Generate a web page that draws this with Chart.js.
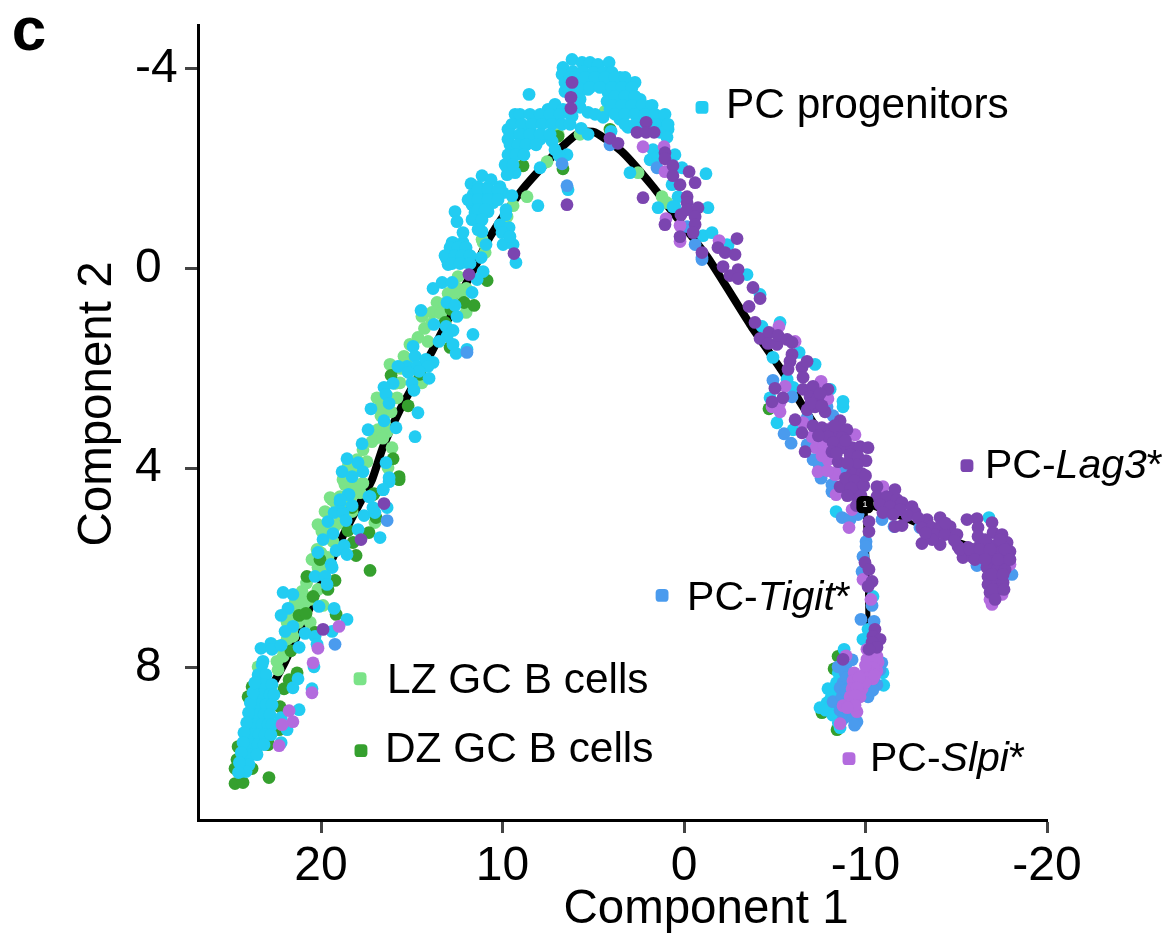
<!DOCTYPE html>
<html>
<head>
<meta charset="utf-8">
<title>Component plot</title>
<script src="https://cdn.jsdelivr.net/npm/chart.js@4"></script>
<style>
html,body{margin:0;padding:0;background:#fff;}
canvas{display:block;}
</style>
</head>
<body>
<canvas id="plot" width="1172" height="934"></canvas>
<script>
// Tick labels
const xTicks = [20, 10, 0, -10, -20];
const yTicks = [-4, 0, 4, 8];

// Trajectory
const trunkLine = [[24.46,10.14],[23.09,8.64],[21.98,7.88],[18.84,5.39],[17.85,4.69],[17.19,4.23],[16.58,3.57],[15.65,2.83],[13.83,1.62],[12.18,0.42],[11.4,-0.12],[10.69,-0.64],[9.04,-1.52],[8.1,-1.92],[6.72,-2.44],[5.73,-2.73],[4.9,-2.73],[3.36,-2.32],[1.71,-1.64],[0.61,-1.12],[-1.27,-0.24],[-3.64,1.12],[-5.45,2.08],[-6.39,2.67],[-9.97,4.73]];
const lag3Line = [[-9.97,4.73],[-12.18,5.03],[-14.11,5.33],[-17.41,5.73]];
const slpiLine = [[-9.97,4.73],[-10.08,5.83],[-10.14,7.23]];
const branchNode = [[-9.97,4.73]];

// Cells as [component 1, component 2]
const lzCells = [[22.37,8.04],[22.43,7.87],[23.47,7.98],[21.87,7.43],[21.55,7.37],[21.87,7.09],[21.27,7.09],[20.6,7.09],[21.71,6.89],[21.16,6.79],[21.43,6.69],[21.05,6.47],[20.6,6.63],[20.17,6.43],[19.89,6.75],[20.5,5.83],[20.22,5.63],[20.17,5.99],[19.62,5.79],[20.17,5.13],[19.95,5.27],[19.34,5.47],[19.78,4.87],[19.39,4.63],[18.95,4.57],[18.68,4.33],[18.24,4.39],[17.85,4.49],[18.29,4.87],[17.03,5.09],[22.43,7.57],[22.09,7.77],[23.91,8.64],[23.64,8.5],
[18.24,4.29],[18.79,4.23],[18.02,3.83],[17.47,3.87],[17.69,3.63],[17.2,3.47],[16.87,3.23],[16.36,3.27],[16.09,3.59],[16.31,3.99],[16.92,2.59],[16.75,2.79],[16.14,2.87],[15.81,2.59],[15.65,2.29],[16.2,1.92],[15.43,1.76],[15.1,1.52],[14.66,1.38],[14.11,1.46],[14.44,2.29],[14.44,0.96],[13.89,0.88],[13.61,0.68],[13.61,0.86],[12.73,0.48],[12.45,0.16],[12.01,0.88],[10.96,-0.32],[11.07,-0.52],[18.24,4.49],[19.5,4.59],
[7.55,-2.14],[2.53,-1.92],[1.21,-1.44],[0.94,-1.32],[8.65,-1.44],[9.42,-1.26],[4.35,-3.15],[11.13,-0.58],[9.75,-1.04],[6.94,-2.69],[5.73,-2.69],
[21.6,7.0],[21.4,6.9],[21.2,6.6],[20.9,6.7],[21.0,7.0],[21.6,7.25],[22.0,7.6],[20.8,6.3],[20.0,5.7],[19.9,6.0],[19.8,5.9],[19.6,5.1],[19.2,4.7],[19.0,4.85],[18.6,4.6],[18.3,4.55],[18.7,4.7],[19.3,5.2],[19.0,5.1],[18.5,3.95],[18.3,4.1],[17.9,4.05],[18.1,4.45],[17.7,4.3],[17.0,3.4],[16.6,3.4],[16.5,3.1],[16.7,2.95],[16.4,2.7],[16.2,2.6],[15.9,2.3],[15.6,2.0],[15.3,1.9],[14.3,1.2],[13.9,1.1],[13.4,0.9],[13.2,0.7],[13,0.5],[12.7,0.7],[12.5,0.4],[12.3,0.5],[12.0,0.4]];
const dzCells = [[22.87,10.2],[24.74,10.32],[24.3,10.3],[24.74,10.02],[23.8,10.02],[24.57,9.58],[23.58,9.7],[22.92,9.44],[22.92,9.54],[22.31,9.24],[22.26,8.78],[22.04,8.42],[21.76,8.24],[21.32,8.1],[21.66,7.66],[21.21,6.95],[20.83,6.91],[20.44,6.57],[20.78,6.17],[19.23,6.25],[19.62,6.43],[19.17,6.93],[17.3,6.05],[18.07,5.75],[18.24,5.49],[17.36,5.29],[18.51,5.25],[18.29,4.79],[16.97,4.99],[17.14,4.53],[15.7,4.23],[20.06,5.83],[24.02,8.58],[23.8,8.38],[24.63,9.84],[20.33,7.29],
[16.14,2.14],[15.2,2.75],[14.55,2.12],[16.03,3.81],[15.7,4.17],[17.08,4.51],[13.17,1.08],[12.89,1.58],[12.84,0.82],[12.12,0.68],[11.57,0.74],[10.85,0.24],
[8.87,-2.06],[6.94,-2.65],[6.67,-2.0],[4.08,-2.79],[-4.68,2.81],[-8.49,7.77],[-8.27,8.02],[-8.43,9.24],[-7.6,8.9]];
const progenitorCells = [[23.25,7.94],[23.47,8.14],[23.03,8.14],[23.58,8.34],[23.14,8.34],[22.7,8.34],[23.64,8.54],[23.25,8.54],[22.81,8.54],[22.59,8.54],[23.69,8.74],[23.36,8.74],[23.03,8.74],[22.7,8.74],[23.8,8.94],[23.47,8.94],[23.14,8.94],[22.81,8.94],[23.91,9.14],[23.58,9.14],[23.25,9.14],[22.92,9.14],[22.7,9.14],[24.08,9.34],[23.75,9.34],[23.42,9.34],[23.09,9.34],[22.76,9.34],[24.13,9.54],[23.8,9.54],[23.47,9.54],[23.14,9.54],[24.19,9.74],[23.86,9.74],[23.53,9.74],[24.3,9.94],[23.97,9.94],[24.41,10.08],[24.13,10.08],
[24.0,8.9],[24.1,9.1],[24.25,9.3],[24.3,9.5],[24.4,9.7],[24.5,9.9],[24.55,10.1],[23.9,8.7],[23.75,8.5],[23.65,8.3],
[22.09,6.49],[21.55,6.53],[21.82,6.81],[22.2,6.95],[21.55,7.17],[21.98,7.27],[20.88,7.31],[20.33,7.37],[20.11,6.77],[19.28,6.81],[18.57,7.03],[19.39,7.27],[23.31,7.61],[22.76,7.51],[22.7,7.63],[22.2,7.55],[21.21,7.59],[23.2,7.87],[20.33,6.17],[19.78,6.17],[19.67,6.33],[19.39,5.99],[19.45,5.93],[20.17,5.69],[19.17,5.65],[18.73,5.55],[18.57,5.73],[19.89,5.43],[19.34,5.31],[19.62,5.07],[19.28,4.89],[18.79,4.89],[18.62,5.05],[18.95,4.69],[18.46,4.53],[18.29,4.75],[17.96,5.23],[16.75,5.39],[17.63,4.95],[17.36,4.57],[17.03,4.89],[17.14,4.79],[16.58,4.43],[16.36,4.79],[16.25,4.27],[21.27,8.22],[21.55,8.4],[21.21,8.84],[20.39,7.98],[21.87,9.24],[22.2,9.0],[22.2,9.5],[20.5,8.42],[20.22,7.53],
[13.83,0.4],[13.33,0.28],[12.78,0.28],[14.49,0.84],[13.78,1.12],[13.06,0.68],[12.62,0.74],[12.51,0.96],[13.11,1.16],[12.73,1.24],[13.06,1.36],[13.5,1.46],[12.73,1.52],[12.56,1.7],[11.63,1.32],[11.96,1.62],[11.68,0.48],[14.93,1.56],[14.82,1.76],[15.26,1.96],[15.76,1.96],[14.71,1.96],[14.22,1.82],[13.83,1.88],[14.11,1.96],[14.6,2.06],[15.2,2.08],[14.05,2.2],[14.99,2.29],[14.88,2.44],[16.03,2.3],[16.53,2.38],[16.42,2.52],[16.25,2.7],[17.25,2.81],[14.66,2.89],[16.53,3.05],[17.41,3.23],[15.87,3.19],[14.82,3.37],[17.74,3.51],[18.57,3.81],[17.96,3.89],[16.42,3.89],[18.84,4.07],[18.29,4.17],[17.69,4.07],[16.25,4.19],[16.58,4.43],[17.3,4.57],[18.51,4.53],[18.95,4.63],
[12.78,-0.52],[12.18,-0.52],[12.51,-0.38],[12.18,-0.32],[13.11,-0.22],[13,-0.08],[12.62,-0.14],[11.96,-0.12],[11.18,-0.22],[11.07,0.06],[11.4,0.22],[9.97,-0.48],[9.42,-0.48],[9.26,-0.12],[10.91,-0.48],[13.06,-0.18],
[12.62,-1.14],[12.51,-0.94],[12.18,-0.72],[12.73,-0.52],[12.34,-0.44],[12.07,-0.32],
[11.13,-1.86],[11.74,-1.7],[10.63,-1.78],[11.35,-1.64],[10.85,-1.62],[10.14,-1.64],[11.63,-1.48],[11.13,-1.44],[10.58,-1.44],[9.97,-1.52],[9.48,-1.46],[11.68,-1.28],[11.24,-1.24],[10.52,-1.32],[11.52,-1.12],[10.8,-1.14],[11.24,-0.94],[11.13,-0.74],[9.81,-1.18],[9.81,-1.08],[8.05,-1.26],[10.14,-0.88],[9.64,-0.82],[10.03,-0.72],[9.59,-0.64],
[8.54,-3.49],[9.31,-3.09],[9.7,-2.79],[9.15,-2.93],[9.7,-2.59],[9.04,-2.65],[8.49,-2.79],[8.05,-2.99],[7.49,-3.19],[7.11,-3.29],[6.67,-3.19],[7.11,-3.05],[7.77,-2.93],[6.17,-3.05],[8.49,-2.52],[9.31,-2.44],[9.48,-2.24],[8.93,-2.34],[9.75,-2.02],[9.31,-1.92],[9.75,-1.88],[7.93,-2.59],[7.27,-2.55],[7.11,-2.38],[6.45,-2.28],[7.93,-2.02],[6.89,-2.26],[6.39,-1.58],[5.73,-3.23],[5.29,-3.13],[4.9,-3.09],[4.46,-3.03],[5.67,-2.81],[5.29,-2.69],[4.02,-2.75],[2.98,-1.92],[1.43,-1.22],[-1.21,-1.9],
[6.17,-4.19],[5.62,-4.13],[5.18,-4.13],[4.74,-4.09],[4.13,-4.13],[6.67,-4.03],[6.72,-3.89],[6.12,-3.95],[5.57,-3.95],[5.01,-3.93],[4.46,-3.93],[3.97,-3.93],[6.56,-3.73],[5.57,-3.73],[5.01,-3.73],[4.46,-3.73],[3.91,-3.75],[3.53,-3.83],[6.56,-3.55],[5.73,-3.55],[5.29,-3.59],[4.19,-3.53],[3.64,-3.59],[3.14,-3.73],[2.7,-3.73],[5.73,-3.39],[4.24,-3.35],[3.69,-3.39],[3.09,-3.45],[2.42,-3.39],[4.08,-3.19],[3.53,-3.19],[2.87,-3.23],[1.98,-3.25],[3.53,-2.99],[3.09,-2.83],[2.31,-3.05],[1.49,-3.05],[1.71,-2.93],[1.1,-2.93],[0.88,-2.79],[1.32,-2.73],[1.76,-2.79],[0.94,-2.63],[1.71,-2.38],[1.87,-2.18],[1.43,-2.24],[0.5,-2.28],[0.11,-2.02],[0.66,-1.68],[0.33,-1.44],[0.5,-1.24],[-1.32,-1.22],[-1.05,-0.66],[-1.54,-0.72],[-2.37,-0.48],
[0.61,-1.24],[-2.42,-0.46],[-3.47,0.12],[-4.19,0.52],[-5.29,1.08],[-4.3,1.16],[-4.9,1.78],[-6.34,1.68],[-7.22,1.92],[-5.68,2.22],[-6.01,2.38],[-8.76,2.77],[-8.76,2.66],[-5.12,3.09],[-6.01,3.23],[-7.77,3.49],[-4.74,2.59],[-8.05,2.42],
[-16.8,4.99],[-8.38,4.87],[-10.41,6.57],[-8.82,7.63],[-7.93,8.42],[-7.49,8.8],[-7.88,8.7],[-8.15,8.84],[-8.49,8.94],[-8.6,8.7],[-8.71,8.24],[-8.49,8.48],[-8.6,9.2],[-10.14,7.23],[-9.86,7.43],[-10.96,8.1],
[6.28,-3.83],[6.01,-3.83],[5.45,-3.83],[4.9,-3.83],[4.35,-3.83],[3.8,-3.83],[3.25,-3.83],[6.39,-3.63],[5.84,-3.63],[5.18,-3.63],[4.63,-3.63],[3.97,-3.63],[3.42,-3.63],[2.87,-3.63],[3.8,-3.45],[3.25,-3.45],[2.7,-3.45],[3.97,-3.27],[3.42,-3.27],[2.87,-3.27],[2.31,-3.27],[1.76,-3.27],[3.8,-3.09],[3.25,-3.09],[2.7,-3.09],[2.15,-3.09],[1.6,-3.09],[1.05,-3.09],[3.25,-2.89],[2.7,-2.89],[2.15,-2.89],[1.6,-2.89],[0.88,-2.89],
[9.04,-3.09],[8.49,-3.09],[7.93,-3.09],[7.38,-3.09],[6.83,-3.09],[6.28,-3.09],[9.48,-2.89],[8.93,-2.89],[8.38,-2.89],[7.82,-2.89],[7.27,-2.89],[6.72,-2.89],[6.28,-2.89],[9.59,-2.69],[9.04,-2.69],[8.49,-2.69],[7.93,-2.69],[7.38,-2.69],[9.59,-2.48],[9.15,-2.48],[8.71,-2.48],[8.15,-2.48],[9.7,-2.28],[9.26,-2.28],[8.82,-2.28],[9.86,-2.08],[9.42,-2.08],
[11.35,-1.58],[10.8,-1.58],[10.25,-1.58],[11.9,-1.38],[11.35,-1.38],[10.8,-1.38],[10.25,-1.38],[11.35,-1.18],[10.96,-1.18],[11.68,-0.98],[11.13,-0.98],[11.35,-0.78],
[12.89,-0.42],[12.45,-0.42],[12.01,-0.42],[13.17,-0.26],[12.62,-0.26],[12.23,-0.26],[11.79,-0.26],[12.78,-0.1],[12.34,-0.1],[11.79,-0.1],
[-8.3,8.55],[-8.35,8.75],[-8.1,8.6],[-7.8,8.85],[-8.2,8.95],[-8.7,9.05],[-8.5,9.1],[-8.4,8.3],[-8.5,8.1],[-11.0,8.35]];
const tigitCells = [[19.23,7.53],[16.36,5.05],[11.96,1.68],[6.72,-2.1],[6.45,-1.66],[4.08,-2.48],[1.49,-2.02],[-0.61,-0.48],[-0.99,-0.22],[-0.17,-0.84],[-0.99,-0.18],[-4.9,2.24],[-5.95,2.57],[-8.21,2.95],[-5.51,3.31],[-6.78,2.99],[-6.78,3.53],[-8.76,4.05],[-7.88,2.77],
[-5.9,3.5],[-7.11,3.83],[-7.44,3.93],[-8.15,4.33],[-8.15,4.47],[-8.71,4.99],[-9.15,5.03],[-9.59,4.93],[-6.83,3.57],[-18.07,6.13],[-16.14,5.95],[-13,5.19],
[-10.03,5.47],[-10.03,5.57],[-9.86,5.77],[-9.81,6.07],[-9.75,7.03],[-10.47,7.07],[-10.36,6.75],[-10.91,5.03],[-11.57,5.17],
[-8.49,7.98],[-8.98,7.9],[-9.26,7.84],[-8.87,8.1],[-8.76,8.3],[-10.63,8.34],[-10.14,8.58],[-8.21,8.68],[-9.04,8.94],[-9.53,9.08],[-10.8,8.04],[-8.71,8.58],
[-8.95,8.2],[-8.6,8.4],[-8.9,8.45],[-8.6,8.85],[-8.8,9.0],[-9.3,9.0],[-9.4,9.15],[-10.4,8.45],[-10.9,7.9],[-7.55,4.2]];
const slpiCells = [[20.17,7.61],[20.44,7.9],[20.5,8.5],[21.76,8.86],[21.55,9.08],[22.15,9.14],[22.31,9.56],[19.01,7.17],
[2.26,-2.44],[1.1,-2.44],[1.05,-1.94],[0.99,-1.0],[0.22,-0.86],[0.22,-0.54],[-1.93,-0.56],
[-5.57,2.36],[-5.23,1.16],[-6.12,1.46],[-7.55,2.26],[-5.29,2.87],[-5.29,2.69],[-4.85,2.77],[-7.93,2.61],[-6.56,3.09],[-7.05,3.37],[-7.27,3.59],[-9.42,3.33],[-7.93,3.83],[-8.32,4.13],
[-7.38,4.07],[-8.98,3.89],[-8.32,4.09],[-8.38,4.53],[-9.26,4.83],[-9.09,5.19],[-10.96,4.37],
[-16.97,6.73],[-16.86,6.63],[-17.52,6.53],[-17.96,5.93],[-9.86,6.23],[-10.3,6.63],
[-10.63,7.77],[-10.08,7.83],[-10.69,7.89],[-10.14,7.98],[-10.63,8.06],[-9.97,8.12],[-10.41,8.22],[-9.86,8.28],[-9.37,8.1],[-9.31,8.26],[-9.81,8.42],[-9.26,8.42],[-9.7,8.58],[-9.15,8.58],[-8.76,8.76],[-9.26,8.7],[-9.53,8.88],[-8.6,9.12],[-8.93,7.76],[-10.08,7.63],
[-10.3,7.9],[-10.41,8.0],[-10.3,8.1],[-10.19,8.2],[-9.97,8.3],[-9.64,8.2],[-9.53,8.4],[-9.42,8.55],[-9.42,8.75],[-9.0,8.8],[-10.5,8.15],[-10.0,7.95],[-7.7,3.55],[-7.6,3.75],[-7.9,4.05],[-8.1,3.2]];
const lag3Cells = [[19.89,7.23],[17.8,5.43],[16.53,4.71],[11.85,0.12],[9.37,-0.3],
[6.17,-3.73],[6.23,-3.43],[6.23,-3.21],[6.45,-1.28],[4.08,-2.61],[3.64,-2.51],[2.59,-2.73],[2.09,-2.93],[2.09,-2.73],[1.65,-2.73],[1.05,-2.32],[1.05,-2.2],[0.61,-2.06],[0.61,-1.86],[-0.28,-1.94],[-0.61,-1.72],[0.22,-1.68],[2.26,-1.42],[-0.17,-1.44],[-0.17,-1.32],[0.17,-1.08],[-0.17,-1.18],[-0.77,-1.22],[-0.61,-1.04],[-0.61,-0.88],[-0.5,-0.72],[1.05,-0.88],[0.22,-0.64],[-0.99,-0.32],[-1.87,-0.42],[-2.26,-0.32],[-2.81,-0.28],[-2.92,-0.6],[-2.15,-0.04],[-2.98,0.02],
[-2.53,0.14],[-2.98,0.2],[-3.8,0.38],[-4.19,0.6],[-3.58,0.76],[-3.91,1.08],[-4.19,1.4],[-4.68,1.28],[-4.63,1.5],[-5.12,1.52],[-5.18,1.34],[-5.68,1.42],[-5.95,1.48],[-5.95,1.72],[-5.84,1.86],[-5.73,2.02],[-6.5,1.98],[-6.78,1.86],[-6.56,2.18],[-5.01,2.4],[-5.45,2.59],[-4.85,2.67],[-6.56,2.42],[-7.11,2.36],[-7.93,2.42],[-6.94,2.57],[-7.38,2.59],[-6.78,2.83],[-7.22,2.77],[-7.77,2.87],[-6.12,3.03],[-7.11,3.15],[-7.6,3.19],[-8.05,3.23],[-8.6,3.05],[-6.5,3.29],[-8.49,3.27],[-8.98,3.23],[-7.93,3.37],[-8.71,3.39],[-8.21,3.49],[-8.76,3.59],[-8.15,3.67],[-9.26,3.59],[-9.7,3.57],[-10.14,3.59],[-6.67,3.67],[-9.15,3.73],[-9.59,3.77],[-10.03,3.85],[-8.49,3.87],[-9.53,3.93],[-9.26,4.11],[-9.81,4.11],
[-8.6,4.37],[-9.59,4.43],[-9.53,4.57],[-10.63,4.37],[-11.62,4.43],[-10.63,4.57],[-11.18,4.57],[-11.73,4.63],[-12.01,4.69],[-12.56,4.77],[-10.8,4.73],[-11.35,4.77],[-11.9,4.83],[-12.73,4.89],[-10.96,4.89],[-11.52,4.93],[-11.62,5.17],[-12.01,5.15],[-10.19,5.07],[-10.19,5.27],
[-13.39,5.03],[-14.11,4.99],[-13.56,5.17],[-14.11,5.17],[-14.66,5.17],[-13.83,5.33],[-14.38,5.33],[-15.04,5.33],[-13.11,5.51],[-14.11,5.53],[-13.67,5.43],[-15.59,5.03],[-16.14,5.01],[-16.2,5.19],[-16.2,5.37],[-16.97,5.09],[-17.03,5.29],[-17.52,5.33],[-17.8,5.49],[-17.96,5.67],[-16.69,5.49],[-17.25,5.53],[-15.1,5.57],[-15.65,5.59],[-16.2,5.59],[-16.75,5.67],[-17.41,5.69],[-15.37,5.79],[-15.92,5.79],[-16.47,5.79],[-17.03,5.83],[-17.58,5.87],[-17.85,5.77],[-16.69,5.99],[-17.25,6.03],[-17.69,6.03],[-16.75,6.17],[-17.3,6.19],[-16.75,6.33],[-17.25,6.33],[-17.58,6.29],[-16.86,6.49],[-17.3,6.43],
[-9.97,5.89],[-10.19,6.03],[-10.36,6.27],[-10.14,6.37],[-10.52,7.23],[-10.41,7.37],[-10.8,7.43],[-10.36,7.49],[-10.63,7.59],[-10.19,7.63],[-8.76,7.83],
[-16.59,5.43],[-17.41,5.43],[-15.21,5.63],[-15.76,5.63],[-16.31,5.63],[-16.86,5.63],[-17.69,5.63],[-16.03,5.83],[-16.59,5.83],[-17.3,5.83],[-17.96,5.83],[-16.97,6.13],[-17.58,6.13],[-17.03,6.43],[-17.63,6.43],[-17.14,6.63],
[-7.0,2.7],[-7.5,2.5],[-7.6,2.75],[-8.3,3.15],[-7.4,3.35],[-8.4,3.7],[-8.9,3.45],[-9.0,3.9],[-8.9,4.2],[-9.4,4.25],[-9.9,4.35],[-9.75,4.55],[-10.0,4.15],[-9.2,4.4],[-9.0,4.55],[-9.5,4.75],
[-12.3,4.95],[-12.9,5.0],[-13.1,5.2],[-13.3,5.3],[-14.4,5.1],[-14.9,5.45]];

// Legend marks and labels
const legendNames = ['PC progenitors', 'PC-Lag3*', 'PC-Tigit*', 'PC-Slpi*', 'LZ GC B cells', 'DZ GC B cells'];
const legendX = [-0.99, -15.59, 1.21, -9.09, 17.85, 17.8];
const legendY = [-3.23, 3.95, 6.55, 9.82, 8.22, 9.66];
const legendColors = ['#22CCF2', '#7B45B0', '#4A9BEE', '#B36BDE', '#7BE388', '#35A02E'];
const legendGap = [24, 18, 25, 21, 27, 24];
const legendShift = [-1, 1, 3, 1, 3, 0];

const toXY = list => list.map(p => ({x:p[0], y:p[1]}));
const cells = (label, list, color) => ({label, data:toXY(list), backgroundColor:color, pointRadius:6.4, pointBorderWidth:0, showLine:false, clip:false});
const path = (label, list, width) => ({label, data:toXY(list), borderColor:'#000', borderWidth:width, showLine:true, pointRadius:0, tension:0.2, clip:false});

// Split a label so that the gene name comes out italic
function drawLabel(ctx, name, x, y){
  const m = name.match(/^(PC-)(\w+)(\*)$/);
  const parts = m ? [[m[1],''],[m[2],'italic '],[m[3],'']] : [[name,'']];
  const size = m ? 41 : 42.4;
  parts.forEach(p => {
    ctx.font = p[1] + size + 'px "Liberation Sans"';
    ctx.fillText(p[0], x, y);
    x += ctx.measureText(p[0]).width;
  });
}

const textPlugin = {
  id:'plotText',
  afterDatasetsDraw(chart){
    const {ctx, scales:{x, y}} = chart;
    ctx.save();
    ctx.fillStyle = '#000';
    ctx.textBaseline = 'middle';
    ctx.textAlign = 'left';
    legendNames.forEach((name, i) => {
      drawLabel(ctx, name, x.getPixelForValue(legendX[i]) + legendGap[i], y.getPixelForValue(legendY[i]) + legendShift[i]);
    });
    // node number
    ctx.fillStyle = '#fff';
    ctx.font = '9px "Liberation Sans"';
    ctx.textAlign = 'center';
    ctx.fillText('1', x.getPixelForValue(branchNode[0][0]), y.getPixelForValue(branchNode[0][1]));
    // panel letter and axis titles
    ctx.fillStyle = '#000';
    ctx.font = 'bold 62px "Liberation Sans"';
    ctx.fillText('c', 29, 33);
    ctx.font = '47.5px "Liberation Sans"';
    ctx.fillText('Component 1', 706, 910);
    ctx.translate(98, 404);
    ctx.rotate(-Math.PI / 2);
    ctx.fillText('Component 2', 0, 0);
    ctx.restore();
  }
};

const tickFont = {family:'"Liberation Sans"', size:48};
const legendSets = legendNames.map((name, i) => ({
  label:name+' key', data:[{x:legendX[i], y:legendY[i]}], backgroundColor:legendColors[i],
  pointStyle:'rectRounded', pointRadius:7.5, pointBorderWidth:0, showLine:false, clip:false
}));

new Chart(document.getElementById('plot').getContext('2d'), {
  type:'scatter',
  data:{datasets:[
    {label:'node', data:toXY(branchNode), backgroundColor:'#000', pointStyle:'rectRounded', pointRadius:10, pointBorderWidth:0, showLine:false},
    ...legendSets,
    cells('PC-Lag3*', lag3Cells, '#7B45B0'),
    cells('PC-Slpi*', slpiCells, '#B36BDE'),
    cells('PC-Tigit*', tigitCells, '#4A9BEE'),
    cells('PC progenitors', progenitorCells, '#22CCF2'),
    cells('DZ GC B cells', dzCells, '#35A02E'),
    cells('LZ GC B cells', lzCells, '#7BE388'),
    path('trunk', trunkLine, 8),
    path('lag3 branch', lag3Line, 4),
    path('slpi branch', slpiLine, 5)
  ]},
  options:{
    responsive:false,
    animation:false,
    events:[],
    layout:{padding:{left:135, top:25, right:125, bottom:0}},
    plugins:{legend:{display:false}, tooltip:{enabled:false}},
    scales:{
      x:{
        type:'linear', reverse:true, min:-20, max:26.78,
        afterBuildTicks(s){ s.ticks = xTicks.map(v => ({value:v})); },
        afterFit(s){ s.height = 114; s.paddingLeft = 0; s.paddingRight = 0; },
        border:{color:'#000', width:3},
        grid:{drawOnChartArea:false, tickLength:13, tickColor:'#444', tickWidth:3},
        ticks:{font:tickFont, color:'#000', padding:5, maxRotation:0, autoSkip:false}
      },
      y:{
        type:'linear', reverse:true, min:-4.88, max:11.05,
        afterBuildTicks(s){ s.ticks = yTicks.map(v => ({value:v})); },
        afterFit(s){ s.width = 63; s.paddingTop = 0; s.paddingBottom = 0; },
        border:{color:'#000', width:3},
        grid:{drawOnChartArea:false, tickLength:13, tickColor:'#444', tickWidth:3},
        ticks:{font:tickFont, color:'#000', crossAlign:'far', padding:8, autoSkip:false}
      }
    }
  },
  plugins:[textPlugin]
});
</script>
</body>
</html>
